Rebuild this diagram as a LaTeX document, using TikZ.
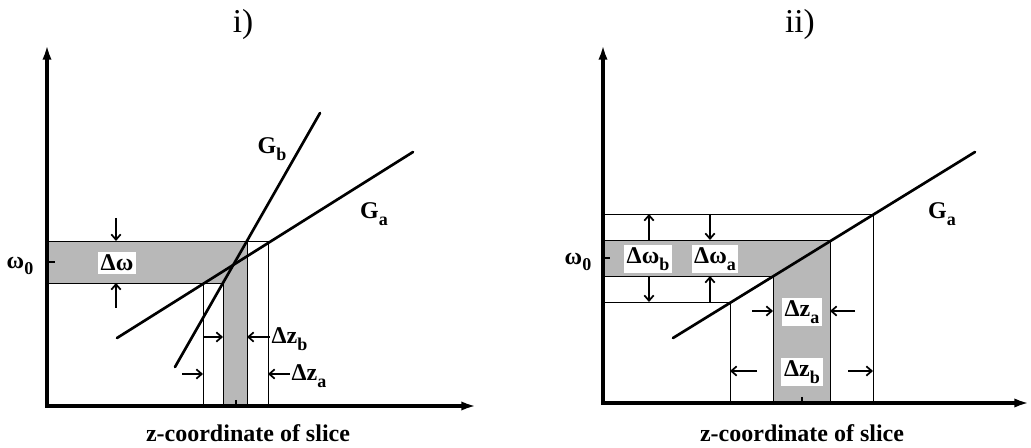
\documentclass[tikz,border=0pt]{standalone}
\usepackage{fontspec}
\setmainfont{Liberation Serif}
\usetikzlibrary{arrows.meta}
\newcommand{\lowsub}[1]{\raisebox{-0.6ex}{\fontsize{13.5}{14}\selectfont #1}}

\begin{document}
\begin{tikzpicture}[x=0.75pt, y=-0.75pt,
  every node/.style={font=\bfseries\fontsize{18}{21}\selectfont, inner sep=1pt},
  axis/.style={line width=2.4pt, {Latex[length=11pt,width=7pt]}-{Latex[length=11pt,width=7pt]}},
  gline/.style={line width=2pt, line cap=round},
  guide/.style={line width=0.6pt},
  dim/.style={line width=1.3pt, -{Straight Barb[length=4pt,width=7pt]}},
  shade/.style={fill=black!28},
  lbl/.style={fill=white, inner sep=2pt},
  ttl/.style={font=\fontsize{25}{30}\selectfont}]
  \useasboundingbox (0,0) rectangle (1031,448);

  % panel i)
  \fill[shade] (47,241) rectangle (247,283);
  \fill[shade] (223,241) rectangle (247,406);
  \draw[guide] (47,241) -- (268,241);
  \draw[guide] (47,283) -- (223,283);
  \draw[guide] (203,283) -- (203,406);
  \draw[guide] (223,283) -- (223,406);
  \draw[guide] (247,241) -- (247,406);
  \draw[guide] (268,241) -- (268,406);
  \draw[axis] (47,45) -- (47,406) -- (476,406);
  \draw[line width=2pt] (47,262) -- (55,262);
  \draw[line width=1.2pt] (236,400) -- (236,406);
  \draw[gline] (117,338) -- (413,152);
  \draw[gline] (175,367) -- (320,113);

  \node[ttl] (ti) at (243,24) {i)};
  \node (xi) at (248,433) {z-coordinate of slice};
  \node (wi) at (20,266) {ω\lowsub{0}};
  \node (gb) at (272,149) {G\lowsub{b}};
  \node (ga) at (374,214) {G\lowsub{a}};
  \node[lbl] (dw) at (117,263) {Δω};
  \node[anchor=west] (dzb) at (270,339) {Δz\lowsub{b}};
  \node[anchor=west] (dza) at (290,376) {Δz\lowsub{a}};

  \draw[dim] (116,218) -- (116,241);
  \draw[dim] (116,308) -- (116,283);
  \draw[dim] (203,337) -- (223,337);
  \draw[dim] (dzb.west |- 0,337) -- (247,337);
  \draw[dim] (182,374) -- (203,374);
  \draw[dim] (dza.west |- 0,374) -- (268,374);

  % panel ii)
  \fill[shade] (603,240) rectangle (830,276);
  \fill[shade] (773,240) rectangle (830,403);
  \draw[guide] (603,214) -- (873,214);
  \draw[guide] (603,240) -- (830,240);
  \draw[guide] (603,276) -- (773,276);
  \draw[guide] (603,302) -- (730,302);
  \draw[guide] (730,302) -- (730,403);
  \draw[guide] (773,276) -- (773,403);
  \draw[guide] (830,240) -- (830,403);
  \draw[guide] (873,214) -- (873,403);
  \draw[axis] (603,45) -- (603,403) -- (1029,403);
  \draw[line width=2pt] (603,258) -- (610,258);
  \draw[line width=1.2pt] (802,397) -- (802,403);
  \draw[gline] (673,338) -- (975,152);

  \node[ttl] (tii) at (800,24) {ii)};
  \node (xii) at (802,433) {z-coordinate of slice};
  \node (wii) at (578,262) {ω\lowsub{0}};
  \node (gaii) at (942,214) {G\lowsub{a}};
  \node[lbl] (dwb) at (648,259) {Δω\lowsub{b}};
  \node[lbl] (dwa) at (715,259) {Δω\lowsub{a}};
  \node[lbl] (dzaii) at (802,312) {Δz\lowsub{a}};
  \node[lbl] (dzbii) at (802,372) {Δz\lowsub{b}};

  \draw[dim] (649,240) -- (649,214);
  \draw[dim] (649,276) -- (649,302);
  \draw[dim] (710,214) -- (710,240);
  \draw[dim] (710,302) -- (710,276);
  \draw[dim] (752,311) -- (773,311);
  \draw[dim] (855,311) -- (830,311);
  \draw[dim] (757,371) -- (730,371);
  \draw[dim] (848,371) -- (873,371);
\end{tikzpicture}
\end{document}
